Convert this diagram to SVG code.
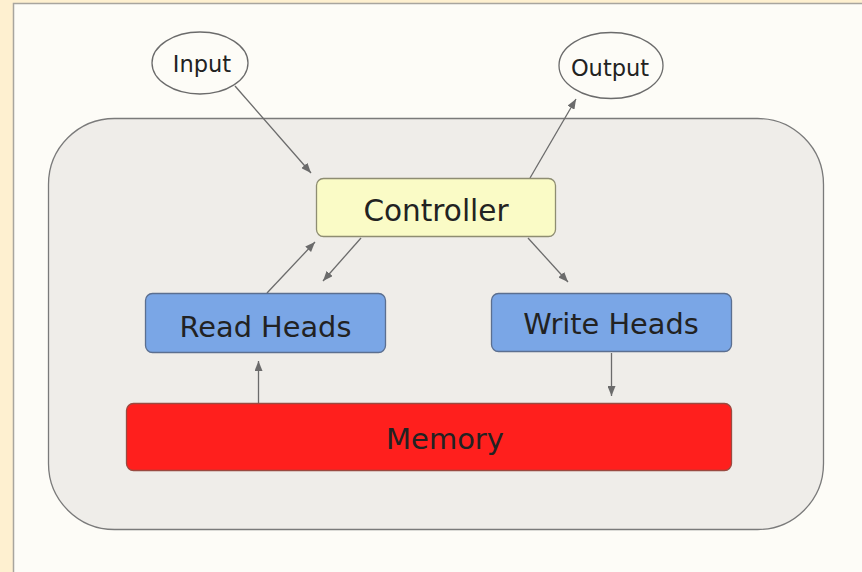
<svg xmlns="http://www.w3.org/2000/svg" width="862" height="572" viewBox="0 0 862 572">
<defs>
<marker id="ah" markerWidth="10" markerHeight="8" refX="10" refY="4" orient="auto" markerUnits="userSpaceOnUse">
<path d="M0,0 L10,4 L0,8 Z" fill="#6b6b6b"/>
</marker>
<style>
.t{font-family:"DejaVu Sans","Liberation Sans",sans-serif;fill:#222;text-anchor:middle}
.c{stroke:#6b6b6b;stroke-width:1.3;fill:none;marker-end:url(#ah)}
.box{stroke-width:1.3}
</style>
</defs>
<rect x="0" y="0" width="862" height="572" fill="#fef0d0"/>
<rect x="13.5" y="3.5" width="860" height="580" fill="#fdfcf7" stroke="#a8a59e" stroke-width="1.5"/>
<g id="container">
<rect x="48.5" y="118.5" width="775" height="411" rx="66" ry="66" fill="#efede9" stroke="#7a7a7a" stroke-width="1.3"/>
</g>
<g id="connectors">
<line class="c" x1="235" y1="86" x2="311" y2="173"/>
<line class="c" x1="530" y1="178" x2="576" y2="99"/>
<line class="c" x1="267" y1="293" x2="315" y2="242"/>
<line class="c" x1="361" y1="238" x2="323" y2="281"/>
<line class="c" x1="528" y1="238" x2="568" y2="282"/>
<line class="c" x1="611.5" y1="353" x2="611.5" y2="396"/>
<line class="c" x1="258.5" y1="403" x2="258.5" y2="361"/>
</g>
<g id="input">
<ellipse cx="200" cy="63" rx="48" ry="31" fill="#fdfcf7" stroke="#6b6b6b" stroke-width="1.3"/>
<text class="t" x="202" y="72" font-size="22.5">Input</text>
</g>
<g id="output">
<ellipse cx="611" cy="65.5" rx="52" ry="33" fill="#fdfcf7" stroke="#6b6b6b" stroke-width="1.3"/>
<text class="t" x="610" y="76" font-size="22.5">Output</text>
</g>
<g id="controller">
<rect class="box" x="316.5" y="178.5" width="239" height="58" rx="7" fill="#fafbc6" stroke="#8e8d72"/>
<text class="t" x="436" y="221" font-size="29.5">Controller</text>
</g>
<g id="read-heads">
<rect class="box" x="145.5" y="293.5" width="240" height="59" rx="7" fill="#7aa6e6" stroke="#5b6f90"/>
<text class="t" x="265.5" y="337" font-size="28.8">Read Heads</text>
</g>
<g id="write-heads">
<rect class="box" x="491.5" y="293.5" width="240" height="58" rx="7" fill="#7aa6e6" stroke="#5b6f90"/>
<text class="t" x="611" y="334" font-size="28.8">Write Heads</text>
</g>
<g id="memory">
<rect class="box" x="126.5" y="403.5" width="605" height="67" rx="7" fill="#ff1f1d" stroke="#9a4a40"/>
<text class="t" x="445" y="449" font-size="29" fill="#3a2222">Memory</text>
</g>
</svg>
